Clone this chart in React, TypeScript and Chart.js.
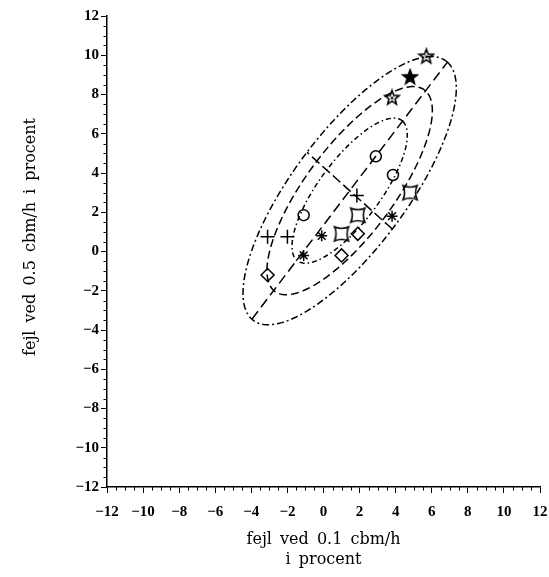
import { useEffect, useRef } from "react";
import { Chart, registerables } from "chart.js";

Chart.register(...registerables);

// Axis range and tick spacing
const AXIS_MIN = -12;
const AXIS_MAX = 12;
const TICK_STEP = 2;
const MINOR_STEP = 0.5;

const X_TITLE = ["fejl ved 0.1 cbm/h", "i procent"];
const Y_TITLE = "fejl ved 0.5 cbm/h i procent";

// Measured errors (percent): x at 0.1 cbm/h, y at 0.5 cbm/h
const starOpenX = [5.7, 3.8];
const starOpenY = [9.95, 7.85];
const starFilledX = [4.8];
const starFilledY = [8.9];
const circleX = [2.9, 3.85, -1.1];
const circleY = [4.85, 3.9, 1.85];
const squareX = [4.8, 1.9, 1.0];
const squareY = [3.0, 1.85, 0.9];
const diamondX = [1.9, 1.0, -3.1];
const diamondY = [0.9, -0.2, -1.2];
const plusX = [1.85, -3.1, -2.0];
const plusY = [2.85, 0.75, 0.75];
const asteriskX = [3.8, -0.1, -1.1];
const asteriskY = [1.8, 0.8, -0.2];

// Confidence ellipses: shared centre and orientation, one semi-axis pair per level
const ellipseCentre = [1.45, 3.1];
const ellipseAngleDeg = 50.4;
const semiMajor = [8.5, 6.6, 4.6];
const semiMinor = [3.07, 2.36, 1.65];
const ellipseDash = [
  [7, 3, 2, 3],
  [8, 4],
  [5, 3, 1.5, 3],
];

const pts = (xs: number[], ys: number[]) => xs.map((x, i) => ({ x, y: ys[i] }));

const theta = (ellipseAngleDeg * Math.PI) / 180;
const ux = Math.cos(theta);
const uy = Math.sin(theta);
const vx = -Math.sin(theta);
const vy = Math.cos(theta);

function ellipsePath(a: number, b: number) {
  const out: { x: number; y: number }[] = [];
  const n = 200;
  for (let i = 0; i <= n; i++) {
    const t = (i / n) * Math.PI * 2;
    const p = a * Math.cos(t);
    const q = b * Math.sin(t);
    out.push({
      x: ellipseCentre[0] + p * ux + q * vx,
      y: ellipseCentre[1] + p * uy + q * vy,
    });
  }
  return out;
}

function axisSegment(len: number, dx: number, dy: number) {
  return [
    { x: ellipseCentre[0] - len * dx, y: ellipseCentre[1] - len * dy },
    { x: ellipseCentre[0] + len * dx, y: ellipseCentre[1] + len * dy },
  ];
}

function marker(size: number, draw: (c: CanvasRenderingContext2D, s: number) => void) {
  const c = document.createElement("canvas");
  c.width = size;
  c.height = size;
  const g = c.getContext("2d")!;
  g.strokeStyle = "#000";
  g.fillStyle = "#000";
  g.lineWidth = 1.6;
  g.lineJoin = "miter";
  draw(g, size);
  return c;
}

function starPath(g: CanvasRenderingContext2D, s: number, ro: number, ri: number) {
  const c = s / 2;
  g.beginPath();
  for (let i = 0; i < 10; i++) {
    const r = i % 2 === 0 ? ro : ri;
    const ang = -Math.PI / 2 + (i * Math.PI) / 5;
    const px = c + r * Math.cos(ang);
    const py = c + r * Math.sin(ang) + 0.5;
    if (i === 0) g.moveTo(px, py);
    else g.lineTo(px, py);
  }
  g.closePath();
}

function buildMarkers() {
  const starOpen = marker(18, (g, s) => {
    starPath(g, s, 7.5, 3.2);
    g.stroke();
    starPath(g, s, 2.2, 1);
    g.fill();
  });
  const starFilled = marker(18, (g, s) => {
    starPath(g, s, 7.5, 3.2);
    g.fill();
    g.stroke();
  });
  const concaveSquare = marker(20, (g, s) => {
    const c = s / 2;
    const h = 7;
    const k = 3;
    g.beginPath();
    g.moveTo(c - h, c - h);
    g.quadraticCurveTo(c, c - h + k, c + h, c - h);
    g.quadraticCurveTo(c + h - k, c, c + h, c + h);
    g.quadraticCurveTo(c, c + h - k, c - h, c + h);
    g.quadraticCurveTo(c - h + k, c, c - h, c - h);
    g.closePath();
    g.stroke();
  });
  return { starOpen, starFilled, concaveSquare };
}

const frameTicks = {
  id: "frameTicks",
  beforeDraw(chart: any) {
    // wider word gaps for the axis titles
    (chart.ctx as any).wordSpacing = "3px";
  },
  afterDraw(chart: any) {
    const { ctx, chartArea, scales } = chart;
    const xs = scales.x;
    const ys = scales.y;
    ctx.save();
    ctx.strokeStyle = "#000";
    ctx.lineWidth = 1;
    ctx.beginPath();
    for (let v = AXIS_MIN; v <= AXIS_MAX + 1e-9; v += MINOR_STEP) {
      if (Math.abs(Math.round(v / TICK_STEP) * TICK_STEP - v) < 1e-9) continue;
      const px = Math.round(xs.getPixelForValue(v)) + 0.5;
      ctx.moveTo(px, chartArea.bottom);
      ctx.lineTo(px, chartArea.bottom + 3.5);
      const py = Math.round(ys.getPixelForValue(v)) + 0.5;
      ctx.moveTo(chartArea.left, py);
      ctx.lineTo(chartArea.left - 3.5, py);
    }
    ctx.stroke();

    ctx.fillStyle = "#000";
    ctx.font = "16px 'DejaVu Serif'";
    (ctx as any).wordSpacing = "3px";
    ctx.textAlign = "center";
    ctx.textBaseline = "middle";
    ctx.translate(31, 237);
    ctx.rotate(-Math.PI / 2);
    ctx.fillText(Y_TITLE, 0, 0);
    ctx.restore();
  },
};

export default function App() {
  const ref = useRef<HTMLCanvasElement | null>(null);

  useEffect(() => {
    if (!ref.current) return;
    const m = buildMarkers();
    const lineBase = {
      showLine: true,
      pointRadius: 0,
      borderColor: "#000",
      borderWidth: 1.5,
      fill: false,
      tension: 0,
    };
    const markerBase = {
      showLine: false,
      borderColor: "#000",
      backgroundColor: "rgba(0,0,0,0)",
      borderWidth: 1.5,
    };

    const datasets: any[] = [
      ...semiMajor.map((a, i) => ({
        ...lineBase,
        label: `ellipse ${i + 1}`,
        data: ellipsePath(a, semiMinor[i]),
        borderDash: ellipseDash[i],
      })),
      {
        ...lineBase,
        label: "major axis",
        data: axisSegment(semiMajor[0], ux, uy),
        borderDash: [10, 5],
      },
      {
        ...lineBase,
        label: "minor axis",
        data: axisSegment(semiMinor[0], vx, vy),
        borderDash: [10, 4],
      },
      { ...markerBase, label: "star", data: pts(starOpenX, starOpenY), pointStyle: m.starOpen },
      { ...markerBase, label: "star filled", data: pts(starFilledX, starFilledY), pointStyle: m.starFilled },
      { ...markerBase, label: "circle", data: pts(circleX, circleY), pointStyle: "circle", pointRadius: 5.5 },
      { ...markerBase, label: "square", data: pts(squareX, squareY), pointStyle: m.concaveSquare },
      { ...markerBase, label: "diamond", data: pts(diamondX, diamondY), pointStyle: "rectRot", pointRadius: 6.5 },
      { ...markerBase, label: "plus", data: pts(plusX, plusY), pointStyle: "cross", pointRadius: 7 },
      { ...markerBase, label: "asterisk", data: pts(asteriskX, asteriskY), pointStyle: "star", pointRadius: 5.5 },
    ];

    const tickFont = { family: "'Liberation Serif'", size: 15, weight: "bold" as const };
    const fmt = (v: any) => {
      const n = Number(v);
      return n < 0 ? "\u2212" + Math.abs(n) : String(n);
    };

    const chart = new Chart(ref.current, {
      type: "scatter",
      data: { datasets },
      plugins: [frameTicks],
      options: {
        animation: false,
        responsive: true,
        maintainAspectRatio: false,
        layout: { padding: { top: 16, right: 9, left: 0, bottom: 0 } },
        plugins: { legend: { display: false }, tooltip: { enabled: false } },
        scales: {
          x: {
            type: "linear",
            min: AXIS_MIN,
            max: AXIS_MAX,
            afterFit: (s: any) => {
              s.height = 90;
              s.paddingLeft = 0;
              s.paddingRight = 0;
            },
            ticks: {
              stepSize: TICK_STEP,
              color: "#000",
              font: tickFont,
              padding: 10,
              maxRotation: 0,
              autoSkip: false,
              callback: fmt,
            },
            grid: { display: true, drawOnChartArea: false, drawTicks: true, tickLength: 6, color: "#000", lineWidth: 1 },
            border: { display: true, color: "#000", width: 1.5 },
            title: {
              display: true,
              text: X_TITLE,
              color: "#000",
              font: { family: "'DejaVu Serif'", size: 16, lineHeight: 1.2 },
              padding: { top: 0, bottom: 8 },
            },
          },
          y: {
            type: "linear",
            min: AXIS_MIN,
            max: AXIS_MAX,
            afterFit: (s: any) => {
              s.width = 107;
              s.paddingTop = 0;
              s.paddingBottom = 0;
            },
            ticks: {
              stepSize: TICK_STEP,
              color: "#000",
              font: tickFont,
              padding: 2,
              autoSkip: false,
              callback: fmt,
            },
            grid: { display: true, drawOnChartArea: false, drawTicks: true, tickLength: 6, color: "#000", lineWidth: 1 },
            border: { display: true, color: "#000", width: 1.5 },
          },
        },
      },
    });
    return () => chart.destroy();
  }, []);

  return (
    <div style={{ position: "fixed", left: 0, top: 0, width: 549, height: 577, background: "#fff" }}>
      <canvas ref={ref} />
    </div>
  );
}
